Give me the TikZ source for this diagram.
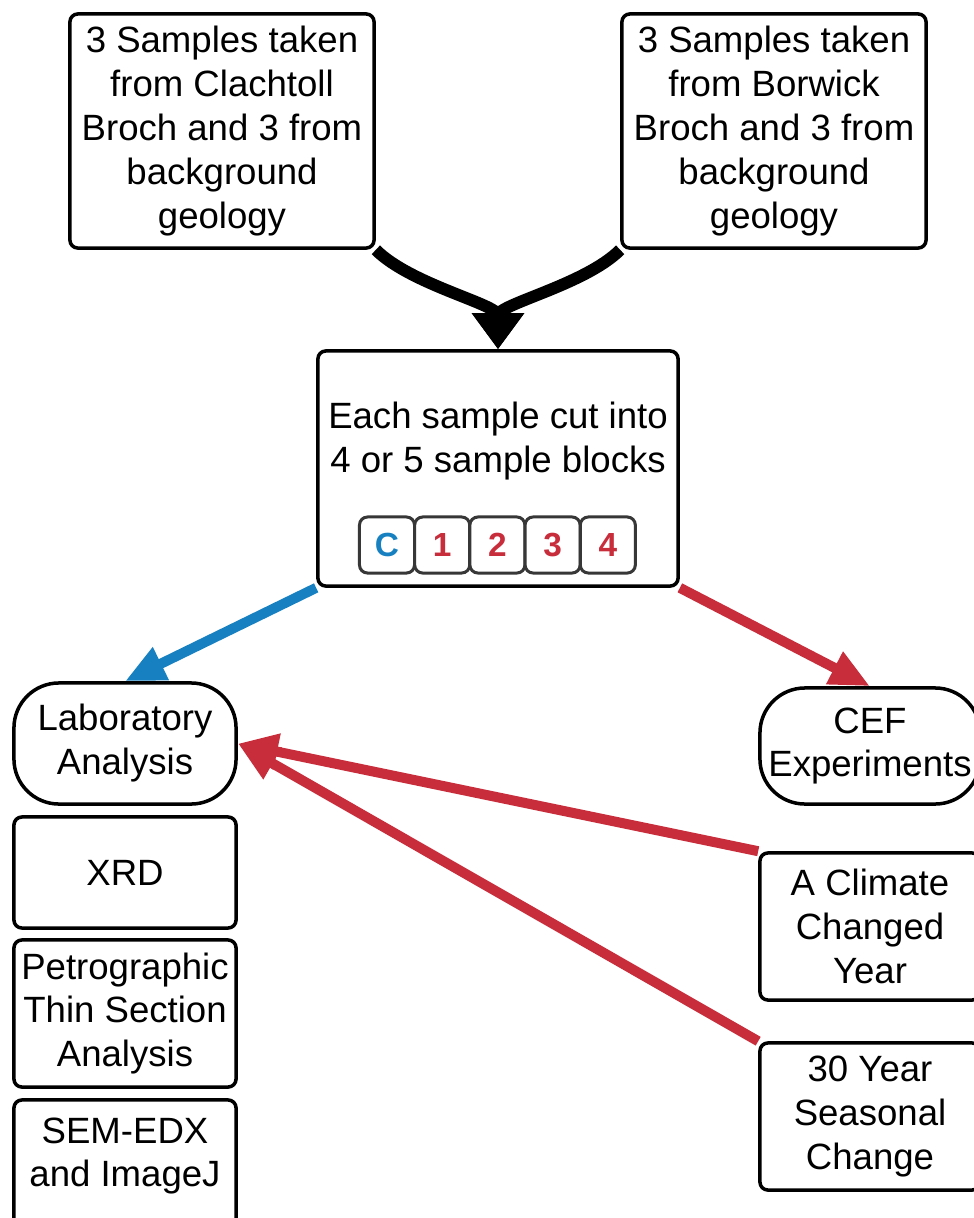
\documentclass[tikz,border=0pt]{standalone}
\usepackage{fontspec}
\setmainfont{Liberation Sans}
\usetikzlibrary{arrows.meta,positioning}
\definecolor{SampleBlue}{RGB}{22,128,192}
\definecolor{SampleRed}{RGB}{200,45,60}
\definecolor{BlockGrey}{RGB}{55,55,55}
\tikzset{
  panel/.style={draw=black,line width=0.035cm,rounded corners=0.08cm,fill=white,
    inner sep=0pt,align=center,font=\fontsize{10.4}{12.5}\selectfont},
  pill/.style={panel,rounded corners=0.45cm},
  caption/.style={inner sep=0pt,align=center,font=\fontsize{10.4}{12.5}\selectfont},
  block/.style={draw=BlockGrey,line width=0.03cm,rounded corners=0.08cm,fill=white,
    minimum width=0.55cm,minimum height=0.56cm,inner sep=0pt,
    font=\fontsize{9.5}{11}\selectfont\bfseries},
  merge/.style={-{Triangle[length=0.36cm,width=0.5cm]},line width=0.12cm},
  flow/.style={-{Triangle[length=0.4cm,width=0.34cm]},line width=0.1cm}
}

\begin{document}
\begin{tikzpicture}[x=0.01cm,y=-0.01cm]
\useasboundingbox (0,0) rectangle (974,1218);
\clip (0,0) rectangle (974,1218);

% Sample sources
\node[panel,minimum width=3.04cm,minimum height=2.34cm] (clach) at (222,131)
  {3 Samples taken\\from Clachtoll\\Broch and 3 from\\background\\geology};
\node[panel,minimum width=3.04cm,minimum height=2.34cm] (borw) at (774,131)
  {3 Samples taken\\from Borwick\\Broch and 3 from\\background\\geology};

% Cutting
\node[panel,minimum width=3.6cm,minimum height=2.35cm] (cut) at (498,468.5) {};
\node[caption] (cuttxt) at (498,441) {Each sample cut into\\4 or 5 sample blocks};
\foreach \i/\t/\c in {0/C/SampleBlue,1/1/SampleRed,2/2/SampleRed,3/3/SampleRed,4/4/SampleRed}{
  \node[block,text=\c] (blk\i) at (387+55.2*\i,545) {\t};
}

% Laboratory side
\node[pill,minimum width=2.22cm,minimum height=1.21cm] (lab) at (125,743.5)
  {Laboratory\\Analysis};
\node[panel,minimum width=2.22cm,minimum height=1.11cm] (xrd) at (125,872.5) {XRD};
\node[panel,minimum width=2.22cm,minimum height=1.47cm] (petro) at (125,1013.5)
  {Petrographic\\Thin Section\\Analysis};
\node[panel,minimum width=2.22cm,minimum height=1.4cm] (sem) at (125,1170) {};
\node[caption] (semtxt) at (125,1156) {SEM-EDX\\and ImageJ};

% Experiment side
\node[pill,minimum width=2.2cm,minimum height=1.16cm] (cef) at (870,746)
  {CEF\\Experiments};
\node[panel,minimum width=2.2cm,minimum height=1.47cm] (climate) at (870,926.5)
  {A Climate\\Changed\\Year};
\node[panel,minimum width=2.2cm,minimum height=1.47cm] (seasonal) at (870,1116.5)
  {30 Year\\Seasonal\\Change};

% Connectors
\draw[merge] (clach.south east) .. controls +(35,35) and +(0,-45) .. (cut.north);
\draw[merge] (borw.south west) .. controls +(-35,35) and +(0,-45) .. (cut.north);
\draw[flow,SampleBlue] (cut.south west) -- (lab.north);
\draw[flow,SampleRed] (cut.south east) -- (cef.north);
\draw[flow,SampleRed] (climate.north west) -- (lab.east);
\draw[flow,SampleRed] (seasonal.north west) -- (lab.east);

\end{tikzpicture}
\end{document}
